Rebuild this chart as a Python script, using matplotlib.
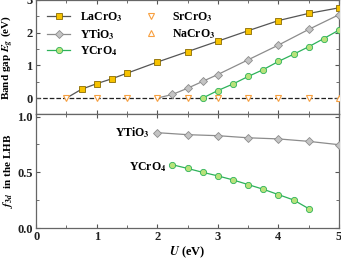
import numpy as np
import matplotlib.pyplot as plt
from matplotlib.ticker import MultipleLocator, FormatStrFormatter

plt.rcParams['font.family'] = 'Liberation Serif'
plt.rcParams['font.weight'] = 'bold'
plt.rcParams['mathtext.fontset'] = 'stix'
plt.rcParams['font.size'] = 9

# band gap data
u_la = [0.5, 0.75, 1.0, 1.25, 1.5, 2.0, 2.5, 3.0, 3.5, 4.0, 4.5, 5.0]
eg_la = [0.0, 0.27, 0.44, 0.59, 0.76, 1.10, 1.42, 1.74, 2.06, 2.37, 2.59, 2.76]
u_yti = [2.0, 2.25, 2.5, 2.75, 3.0, 3.5, 4.0, 4.5, 5.0]
eg_yti = [0.0, 0.11, 0.30, 0.51, 0.72, 1.17, 1.62, 2.10, 2.55]
u_ycr = [2.75, 3.0, 3.25, 3.5, 3.75, 4.0, 4.25, 4.5, 4.75, 5.0]
eg_ycr = [0.0, 0.23, 0.43, 0.66, 0.87, 1.12, 1.34, 1.57, 1.82, 2.08]
u_sr = [0.5, 1.0, 1.5, 2.0, 2.5, 3.0, 3.5, 4.0, 4.5]
eg_sr = [0, 0, 0, 0, 0, 0, 0, 0, 0]
u_na = [5.0]
eg_na = [0]

# f3d in the LHB
u_f_yti = [2.0, 2.5, 3.0, 3.5, 4.0, 4.5, 5.0]
f_yti = [0.856, 0.838, 0.829, 0.81, 0.80, 0.778, 0.748]
u_f_ycr = [2.25, 2.5, 2.75, 3.0, 3.25, 3.5, 3.75, 4.0, 4.25, 4.5]
f_ycr = [0.568, 0.535, 0.50, 0.468, 0.432, 0.39, 0.348, 0.30, 0.252, 0.174]

gold, gold_e = '#f6c200', '#8a6c00'
gray, gray_e = '#c4c4c4', '#8c8c8c'
green, green_e = '#b8e27a', '#2db25a'
orange = '#f7a040'

fig = plt.figure(figsize=(3.41, 2.60), dpi=100)
ax1 = fig.add_axes([0.106, 0.56, 0.888, 0.44])
ax2 = fig.add_axes([0.106, 0.123, 0.888, 0.437])

ax1.axhline(0, color='#222222', ls='--', lw=0.9, zorder=1)
ax1.plot(u_la, eg_la, color='#555555', lw=0.9, marker='s', ms=4.5,
         mfc=gold, mec=gold_e, mew=0.6, markevery=list(range(1, len(u_la))),
         label='LaCrO$_3$', zorder=3)
ax1.plot(u_yti, eg_yti, color='#8c8c8c', lw=0.9, marker='D', ms=4.2,
         mfc=gray, mec=gray_e, mew=0.6, markevery=list(range(1, len(u_yti))),
         label='YTiO$_3$', zorder=3)
ax1.plot(u_ycr, eg_ycr, color=green_e, lw=0.9, marker='o', ms=4.5,
         mfc=green, mec=green_e, mew=0.6, label='YCrO$_4$', zorder=3)
ax1.plot(u_sr, eg_sr, ls='none', marker='v', ms=5, mfc='white', mec=orange,
         mew=0.8, label='SrCrO$_3$', zorder=4)
ax1.plot(u_na, eg_na, ls='none', marker='^', ms=5, mfc='white', mec=orange,
         mew=0.8, label='NaCrO$_3$', zorder=4)

ax1.set_xlim(0, 5)
ax1.set_ylim(-0.5, 3.0)
ax1.set_ylabel(r'Band gap $\boldsymbol{E}_{\boldsymbol{g}}$ (eV)', fontweight='bold',
               fontsize=8)
ax1.yaxis.set_major_locator(MultipleLocator(1))
ax1.yaxis.set_minor_locator(MultipleLocator(0.5))
ax1.set_xticklabels([])
ax1.legend(loc='upper left', ncol=2, frameon=False, fontsize=8.5,
           handlelength=2.0, columnspacing=1.4, labelspacing=0.2,
           bbox_to_anchor=(0.0, 1.0))

ax2.plot(u_f_yti, f_yti, color='#8c8c8c', lw=0.9, marker='D', ms=4.2,
         mfc=gray, mec=gray_e, mew=0.6, zorder=3)
ax2.plot(u_f_ycr, f_ycr, color=green_e, lw=0.9, marker='o', ms=4.5,
         mfc=green, mec=green_e, mew=0.6, zorder=3)
ax2.text(1.88, 0.86, 'YTiO$_3$', ha='right', va='center', fontsize=8.5)
ax2.text(2.15, 0.55, 'YCrO$_4$', ha='right', va='center', fontsize=8.5)
ax2.set_xlim(0, 5)
ax2.set_ylim(0, 1.02)
ax2.yaxis.set_major_locator(MultipleLocator(0.5))
ax2.yaxis.set_minor_locator(MultipleLocator(0.25))
ax2.yaxis.set_major_formatter(FormatStrFormatter('%.1f'))
ax2.set_xlabel(r'$\boldsymbol{U}$ (eV)', fontweight='bold', labelpad=1)
ax2.set_ylabel(r'$\boldsymbol{f}_{\mathbf{3}\boldsymbol{d}}$  in the LHB', fontweight='bold',
               fontsize=8)

for ax in (ax1, ax2):
    ax.xaxis.set_major_locator(MultipleLocator(1))
    ax.xaxis.set_minor_locator(MultipleLocator(0.5))
    ax.tick_params(which='both', direction='in', top=True, right=True,
                   colors='#555555', labelcolor='#222222', pad=2.5)
    ax.tick_params(which='major', length=3)
    ax.tick_params(which='minor', length=2)
    for s in ax.spines.values():
        s.set_color('#666666')
        s.set_linewidth(0.9)

ax1.yaxis.set_label_coords(-0.07, 0.5)
ax2.yaxis.set_label_coords(-0.07, 0.5)

fig.savefig('out.png', dpi=100)
